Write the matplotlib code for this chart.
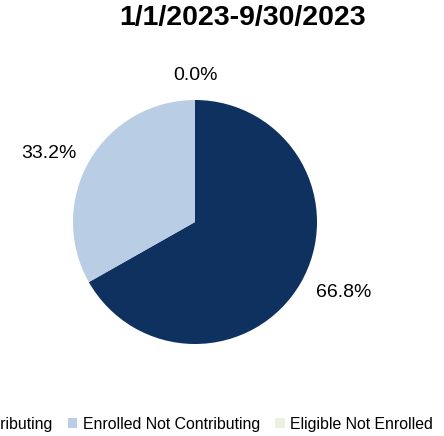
import matplotlib.pyplot as plt
from matplotlib.patches import Patch
import numpy as np

plt.rcParams['font.family'] = ['Liberation Sans', 'DejaVu Sans']

categories = ['Enrolled Contributing', 'Enrolled Not Contributing', 'Eligible Not Enrolled']
values = [66.8, 33.2, 0.0]
colors = ['#0e315f', '#b9cde5', '#ebf1de']
label_dist = [1.15, 1.12, 1.2]
title = '1/1/2023-9/30/2023'

fig = plt.figure(figsize=(4.44, 4.36), dpi=100)
ax = fig.add_axes([73 / 444, 92 / 436, 244 / 444, 244 / 436])

wedges, _ = ax.pie(values, colors=colors, startangle=90, counterclock=False,
                   radius=1.0)
ax.set_xlim(-1, 1)
ax.set_ylim(-1, 1)
ax.set_aspect('equal')

# Excel-style outside labels: anchored at the edge closest to the pie
for w, v, d in zip(wedges, values, label_dist):
    ang = np.deg2rad((w.theta1 + w.theta2) / 2)
    c = np.cos(ang)
    ha = 'left' if c > 0.1 else ('right' if c < -0.1 else 'center')
    ax.text(d * c, d * np.sin(ang), f'{v:.1f}%', ha=ha, va='center',
            fontsize=14, clip_on=False)

fig.text(243 / 444, 1 - 18 / 436, title, ha='center', va='center',
         fontsize=20.5, fontweight='bold')

handles = [Patch(facecolor=c, edgecolor='none') for c in colors]
fig.legend(handles, categories, loc='center right', bbox_to_anchor=(433 / 444, 12 / 436),
           ncol=3, frameon=False, fontsize=11.4, handlelength=0.6, handleheight=0.6,
           handletextpad=0.35, columnspacing=0.95, borderaxespad=0, borderpad=0)

fig.savefig('out.png', dpi=100)
